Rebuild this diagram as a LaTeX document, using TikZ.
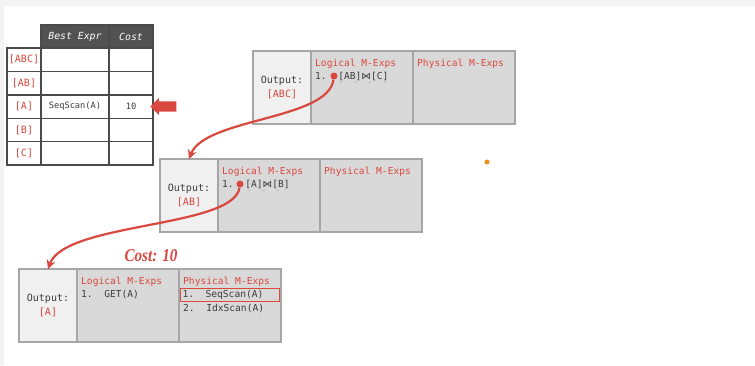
\documentclass[tikz,border=0pt]{standalone}
\usepackage{fontspec}
\setmonofont{DejaVu Sans Mono}
\newfontfamily\costfont[FakeStretch=0.84]{Liberation Serif}
\newfontfamily\symfont{DejaVu Sans}
\usetikzlibrary{arrows.meta,positioning,shapes.arrows}
\definecolor{MRed}{HTML}{D9473F}
\definecolor{TextGray}{HTML}{3C3C3C}
\definecolor{OutFill}{HTML}{F0F0F0}
\definecolor{ExpFill}{HTML}{D9D9D9}
\definecolor{BoxLine}{HTML}{A6A6A6}
\definecolor{GridLine}{HTML}{4A4A4A}
\definecolor{HeadFill}{HTML}{525252}
\definecolor{PageGray}{HTML}{F3F3F3}
\definecolor{SpotOrange}{HTML}{F28C1C}

\begin{document}
\begin{tikzpicture}[
  x=1pt, y=-1pt,
  every node/.style={font=\ttfamily, text=TextGray},
  gridcell/.style={draw=GridLine, line width=1.4pt, outer sep=0pt, inner sep=0pt, minimum height=23.4pt},
  labcell/.style={gridcell, minimum width=34pt, text=MRed, font=\ttfamily\fontsize{10}{12}\selectfont},
  bestcell/.style={gridcell, minimum width=68pt, font=\ttfamily\fontsize{8.7}{10}\selectfont},
  costcell/.style={gridcell, minimum width=44pt, font=\ttfamily\fontsize{8.7}{10}\selectfont},
  headcell/.style={gridcell, minimum height=23pt, fill=HeadFill, text=white, font=\ttfamily\itshape\fontsize{9.8}{12}\selectfont},
  outcell/.style={draw=BoxLine, line width=1.3pt, outer sep=0pt, inner sep=0pt, fill=OutFill, minimum width=58pt, minimum height=73pt, align=center, font=\ttfamily\fontsize{10}{14}\selectfont},
  expcell/.style={draw=BoxLine, line width=1.3pt, outer sep=0pt, fill=ExpFill, minimum width=102pt, minimum height=73pt},
  headtxt/.style={anchor=north west, inner sep=0pt, text=MRed, text height=8.5pt, text depth=4.5pt, font=\ttfamily\fontsize{9.6}{13}\selectfont},
  itemtxt/.style={headtxt, text=TextGray},
  dot/.style={circle, fill=MRed, inner sep=0pt, minimum size=7pt},
  link/.style={-{Stealth[length=9pt, width=9pt]}, line width=2.2pt, MRed},
  dashmark/.style={draw=black!25, line width=0.8pt, dash pattern=on 3pt off 11.5pt},
  blockarr/.style={single arrow, fill=MRed, shape border rotate=180, minimum height=26pt, minimum width=17pt, single arrow head extend=3.5pt, single arrow head indent=0pt, inner xsep=0pt, inner ysep=5pt}
]
\useasboundingbox (0,0) rectangle (755,365);
\fill[PageGray] (0,0) rectangle (755,365);
\fill[white] (4,6) rectangle (755,365);

% memo table
\node[labcell, anchor=north west] (rABC) at (7,48) {[ABC]};
\node[labcell, below=0pt of rABC] (rAB) {[AB]};
\node[labcell, below=0pt of rAB] (rA) {[A]};
\node[labcell, below=0pt of rA] (rB) {[B]};
\node[labcell, below=0pt of rB] (rC) {[C]};
\node[bestcell, right=0pt of rABC] (bABC) {};
\node[bestcell, right=0pt of rAB] (bAB) {};
\node[bestcell, right=0pt of rA] (bA) {SeqScan(A)};
\node[bestcell, right=0pt of rB] (bB) {};
\node[bestcell, right=0pt of rC] (bC) {};
\node[costcell, right=0pt of bABC] (cABC) {};
\node[costcell, right=0pt of bAB] (cAB) {};
\node[costcell, right=0pt of bA] (cA) {10};
\node[costcell, right=0pt of bB] (cB) {};
\node[costcell, right=0pt of bC] (cC) {};
\node[headcell, minimum width=68pt, above=0pt of bABC] (hBest) {Best Expr};
\node[headcell, minimum width=44pt, above=0pt of cABC] (hCost) {Cost};
\node[blockarr, anchor=tip] (pick) at ([xshift=-3pt]cA.east) {};

% group [ABC]
\node[outcell, anchor=north west] (out1) at (253,51) {Output:\\\textcolor{MRed}{[ABC]}};
\node[expcell, right=0pt of out1] (log1) {};
\node[expcell, right=0pt of log1] (phy1) {};
\node[headtxt] (lh1) at ([shift={(4,6.5)}]log1.north west) {Logical M-Exps};
\node[itemtxt] (li1) at (lh1.south west) {1.\phantom{00}[AB]{\symfont ⋈}[C]};
\node[headtxt] (ph1) at ([shift={(4,6.5)}]phy1.north west) {Physical M-Exps};
\draw[dashmark] ([shift={(24,-1.5)}]li1.south west) -- ([shift={(72,-1.5)}]li1.south west);

% group [AB]
\node[outcell, anchor=north west] (out2) at (160,159) {Output:\\\textcolor{MRed}{[AB]}};
\node[expcell, right=0pt of out2] (log2) {};
\node[expcell, right=0pt of log2] (phy2) {};
\node[headtxt] (lh2) at ([shift={(4,6.5)}]log2.north west) {Logical M-Exps};
\node[itemtxt] (li2) at (lh2.south west) {1.\phantom{00}[A]{\symfont ⋈}[B]};
\node[headtxt] (ph2) at ([shift={(4,6.5)}]phy2.north west) {Physical M-Exps};
\draw[dashmark] ([shift={(25,-1.5)}]li2.south west) -- ([shift={(66,-1.5)}]li2.south west);

% group [A]
\node[outcell, anchor=north west] (out3) at (19,269) {Output:\\\textcolor{MRed}{[A]}};
\node[expcell, right=0pt of out3] (log3) {};
\node[expcell, right=0pt of log3] (phy3) {};
\node[headtxt] (lh3) at ([shift={(4,6.5)}]log3.north west) {Logical M-Exps};
\node[itemtxt] (li3) at (lh3.south west) {1.\phantom{00}GET(A)};
\node[headtxt] (ph3) at ([shift={(4,6.5)}]phy3.north west) {Physical M-Exps};
\node[itemtxt, draw=MRed, line width=1pt, inner xsep=2pt, text width=95pt, align=left] (pi3a) at ([shift={(-3,-0.5)}]ph3.south west) {1.\phantom{00}SeqScan(A)};
\node[itemtxt] (pi3b) at ([xshift=3pt]pi3a.south west) {2.\phantom{00}IdxScan(A)};

\node[font=\costfont\bfseries\itshape\fontsize{18}{20}\selectfont, text=MRed] (cost) at (151,256) {Cost: 10};

% recursion links
\node[dot] (d1) at (334,76) {};
\node[dot] (d2) at (240,184) {};
\draw[link] (d1) .. controls (328,120) and (205,118) .. (out2.north);
\draw[link] (d2) .. controls (234,228) and (65,222) .. (out3.north);

\node[circle, fill=SpotOrange, inner sep=0pt, minimum size=5pt] (spot) at (487,162) {};
\end{tikzpicture}
\end{document}
